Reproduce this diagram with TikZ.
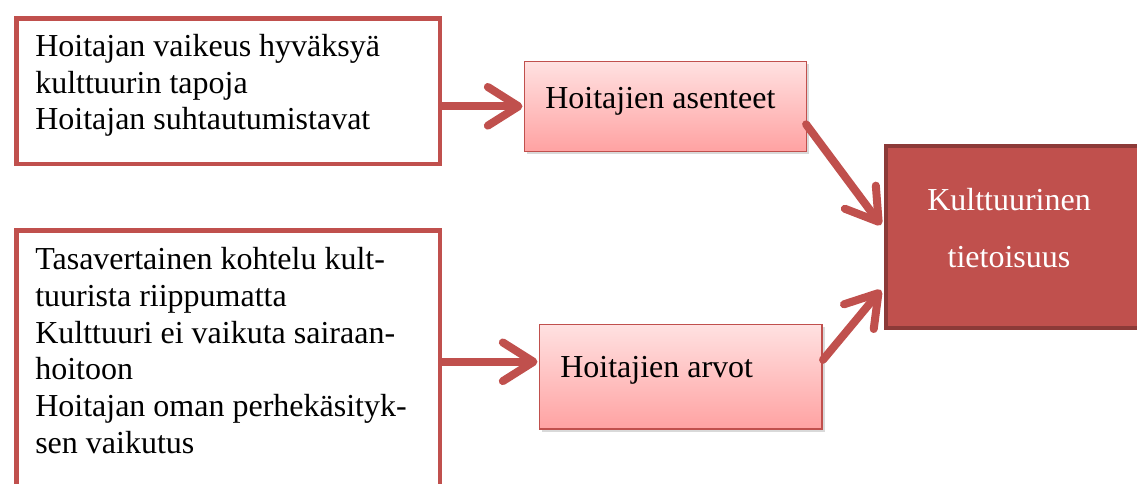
\documentclass[tikz,border=0pt]{standalone}
\usepackage{fontspec}
\setmainfont{Liberation Serif}
\usetikzlibrary{arrows.meta,shadows,calc}
\definecolor{redline}{HTML}{C0504D}
\definecolor{darkred}{HTML}{8C3A38}
\definecolor{pinktop}{HTML}{FFE1E1}
\definecolor{pinkbot}{HTML}{FFA2A2}
\tikzset{
  outerbox/.style={draw=redline, line width=3.4pt, fill=white, rectangle, inner sep=0pt, anchor=north west},
  pinkbox/.style={draw=redline, line width=1.2pt, rectangle, inner sep=0pt, anchor=north west,
    top color=pinktop, bottom color=pinkbot,
    drop shadow={opacity=0.3, shadow xshift=1.8pt, shadow yshift=-1.8pt}},
  mainbox/.style={draw=darkred, fill=redline, line width=3pt, rectangle, inner sep=0pt, anchor=north west},
  bodytext/.style={font=\fontsize{24}{27.5}\selectfont, inner sep=0pt, align=left},
  conn/.style={draw=redline, line width=6pt, line cap=round, line join=round,
    -{Straight Barb[length=23pt,width=29pt,line cap=round,line join=round]}},
}
\begin{document}
\begin{tikzpicture}[x=0.75pt,y=-0.75pt]
\useasboundingbox (0,0) rectangle (1137,483);
\clip (0,0) rectangle (1137,483);
% outer boxes
\node[outerbox, minimum width=317.6pt, minimum height=109.1pt] (b1) at (14.25,16.25) {};
\node[outerbox, minimum width=317.6pt, minimum height=220pt] (b2) at (14.25,228.25) {};
\node[bodytext, anchor=north west] (t1) at (35,34) {Hoitajan vaikeus hyväksyä\\kulttuurin tapoja\\Hoitajan suhtautumistavat};
\node[bodytext, anchor=north west] (t2) at (35,247.5) {Tasavertainen kohtelu kult-\\tuurista riippumatta\\Kulttuuri ei vaikuta sairaan-\\hoitoon\\Hoitajan oman perhekäsityk-\\sen vaikutus};
% pink boxes
\node[pinkbox, minimum width=211.5pt, minimum height=67.5pt] (as) at (523.5,60.5) {};
\node[pinkbox, minimum width=212.2pt, minimum height=78.7pt] (ar) at (538.5,323.5) {};
\node[bodytext, anchor=base west] (tas) at (545,108) {Hoitajien asenteet};
\node[bodytext, anchor=base west] (tar) at (560,377) {Hoitajien arvot};
% main box
\node[mainbox, minimum width=195pt, minimum height=136.5pt] (k) at (884,144) {};
\node[font=\fontsize{24}{42.75}\selectfont, inner sep=0pt, align=center, text=white, anchor=north] (tk) at (1009,188) {Kulttuurinen\\tietoisuus};
% connectors
\draw[conn] (b1.east |- as.west) -- ($(as.west)+(-1,0)$);
\draw[conn] ($(b2.east |- ar.west)+(0,-15)$) -- ($(ar.west)+(-1,-15)$);
\draw[conn] ($(as.east)+(-1,18)$) -- ($(k.west)+(-3,-12)$);
\draw[conn] ($(ar.east)+(0,-17)$) -- ($(k.west)+(-3,53)$);
\end{tikzpicture}
\end{document}
